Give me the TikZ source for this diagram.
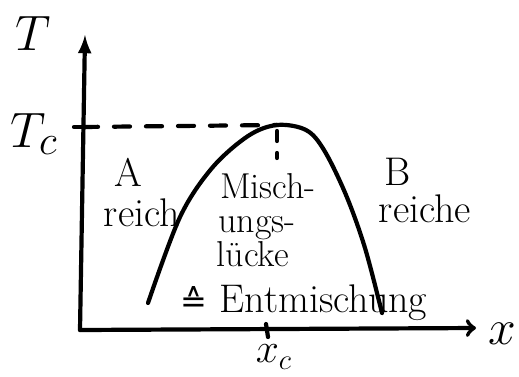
\documentclass[tikz,border=0pt]{standalone}
\usepackage{amsmath}
\usepackage{amssymb}
\usepackage{fontspec}
\usepackage{tikz}
\usetikzlibrary{arrows}

\newfontfamily\symfont{DejaVu Sans}

\tikzset{
  lbl/.style={font=\fontsize{20}{21}\selectfont,inner sep=0pt},
  gaplbl/.style={font=\fontsize{18}{19}\selectfont,inner sep=0pt,anchor=base},
  axlbl/.style={font=\fontsize{28}{30}\selectfont,inner sep=0pt}
}

\begin{document}
\begin{tikzpicture}[x=0.5pt,y=-0.5pt,line width=2.1pt,line cap=round,line join=round]
\useasboundingbox (0,0) rectangle (519,376);
% axes
\coordinate (O) at (80,330);
\coordinate (Ttop) at (85,35);
\coordinate (Xend) at (476,328);
\draw[-latex] (O) -- (Ttop);
\draw[->] (O) -- (Xend);
\node[axlbl] (T) at (33,33) {\(T\)};
\node[axlbl] (x) at (502,334) {\(x\)};
% critical point
\coordinate (Tc) at (82,127);
\coordinate (C) at (277,125);
\coordinate (xc) at (267,330);
\draw (74,127) -- (92,127);
\draw[dashed,dash pattern=on 8pt off 8pt] (Tc) -- (C);
\draw[dashed,dash pattern=on 5pt off 6pt] (277,131) -- (277,158);
\draw (266,324) -- (268,337);
\node[axlbl] (Tclbl) at (34,134) {\(T_c\)};
\node[lbl] (xclbl) at (274,357) {\(x_c\)};
% miscibility gap
\draw plot[smooth,tension=0.55] coordinates {(148,303) (180,217) (212,168) (248,136) (C) (306,130) (324,150) (346,195) (365,248) (382,313)};
\node[lbl] (A) at (128,172) {A};
\node[lbl,anchor=base] (Areich) at (142,226) {reich};
\node[gaplbl] (gap1) at (268,198) {Misch-};
\node[gaplbl] (gap2) at (257,232) {ungs-};
\node[gaplbl] (gap3) at (253,266) {lücke};
\node[lbl,anchor=base] (ent) at (304,312) {{\symfont\fontsize{16}{18}\selectfont ≙} Entmischung};
\node[lbl] (B) at (398,172) {B};
\node[lbl,anchor=base] (Breich) at (425,222) {reiche};
\end{tikzpicture}
\end{document}
